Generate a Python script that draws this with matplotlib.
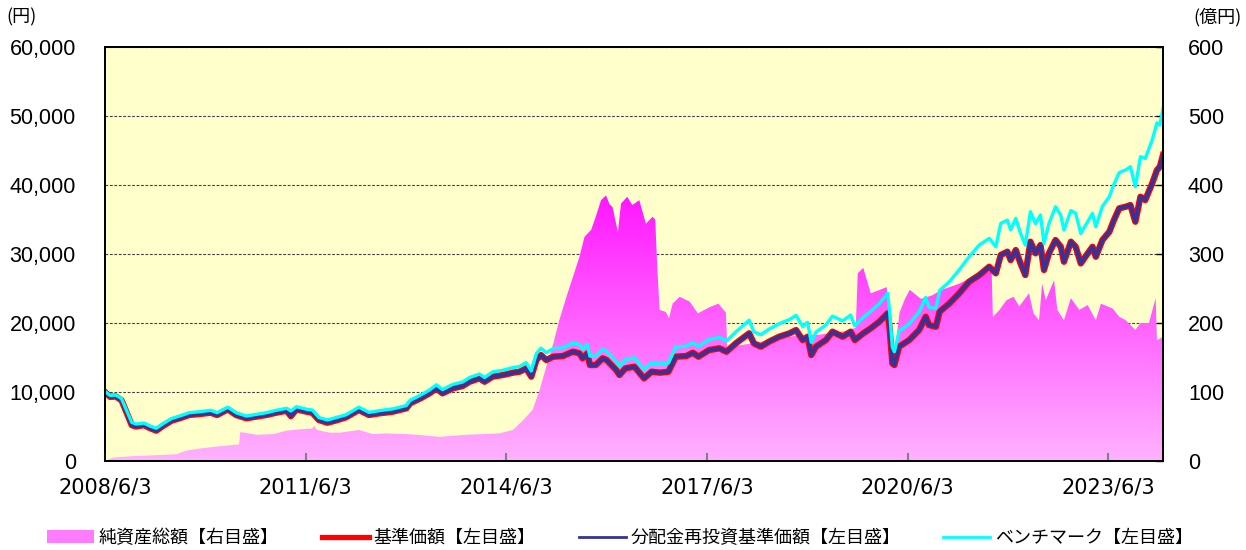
import numpy as np
import pandas as pd
import matplotlib
matplotlib.use('Agg')
import matplotlib.pyplot as plt
import matplotlib.dates as mdates
from matplotlib.lines import Line2D
from matplotlib.patches import Patch
from matplotlib.ticker import FuncFormatter

plt.rcParams['font.family'] = ['Noto Sans CJK JP', 'DejaVu Sans']

# 基準価額（円）  分配なしのため分配金再投資基準価額と同じ値
nav_dates = [
    '2008-06-03', '2008-07-01', '2008-08-01', '2008-09-01', '2008-10-01', '2008-10-27',
    '2008-11-20', '2009-01-01', '2009-02-05', '2009-03-10', '2009-04-15', '2009-06-01',
    '2009-07-15', '2009-09-05', '2009-11-01', '2010-01-01', '2010-02-05', '2010-04-05',
    '2010-05-20', '2010-07-15', '2010-09-05', '2010-11-01', '2010-12-25', '2011-02-20',
    '2011-03-15', '2011-04-15', '2011-06-10', '2011-07-10', '2011-08-15', '2011-10-01',
    '2011-11-25', '2012-01-10', '2012-03-20', '2012-05-15', '2012-07-10', '2012-09-20',
    '2012-12-05', '2012-12-25', '2013-02-20', '2013-04-10', '2013-05-18', '2013-06-20',
    '2013-08-15', '2013-10-08', '2013-11-15', '2014-01-08', '2014-02-05', '2014-03-20',
    '2014-05-15', '2014-07-10', '2014-08-15', '2014-09-20', '2014-10-18', '2014-11-15',
    '2014-12-10', '2015-01-08', '2015-02-15', '2015-04-08', '2015-06-03', '2015-07-08',
    '2015-07-25', '2015-08-20', '2015-09-03', '2015-10-05', '2015-11-12', '2015-12-03',
    '2016-01-25', '2016-02-12', '2016-03-15', '2016-05-03', '2016-06-25', '2016-08-05',
    '2016-09-20', '2016-11-05', '2016-12-15', '2017-02-10', '2017-03-18', '2017-04-18',
    '2017-06-15', '2017-08-10', '2017-09-18', '2017-11-08', '2018-01-20', '2018-02-15',
    '2018-03-25', '2018-05-08', '2018-07-03', '2018-08-28', '2018-10-03', '2018-11-08',
    '2018-12-05', '2018-12-25', '2019-01-20', '2019-03-15', '2019-04-20', '2019-06-15',
    '2019-07-28', '2019-08-20', '2019-10-05', '2019-11-15', '2020-01-01', '2020-02-15',
    '2020-02-25', '2020-03-12', '2020-03-23', '2020-04-18', '2020-06-12', '2020-08-05',
    '2020-09-10', '2020-09-28', '2020-11-05', '2020-11-25', '2021-01-18', '2021-03-12',
    '2021-05-05', '2021-06-30', '2021-08-23', '2021-09-28', '2021-10-25', '2021-11-30',
    '2021-12-18', '2022-01-15', '2022-02-10', '2022-03-08', '2022-04-05', '2022-05-03',
    '2022-05-30', '2022-06-18', '2022-07-15', '2022-08-20', '2022-09-18', '2022-10-05',
    '2022-11-12', '2022-12-08', '2023-01-05', '2023-02-12', '2023-03-10', '2023-03-28',
    '2023-05-03', '2023-06-10', '2023-07-05', '2023-08-03', '2023-09-08', '2023-10-03',
    '2023-10-30', '2023-11-27', '2023-12-23', '2024-01-30', '2024-02-25', '2024-03-12',
    '2024-03-29',
]
nav = [
    10000, 9300, 9350, 8800, 6900, 5200,
    5000, 5200, 4750, 4400, 5070, 5840,
    6190, 6670, 6810, 7000, 6670, 7490,
    6670, 6190, 6420, 6670, 7000, 7290,
    6500, 7490, 7140, 7000, 5940, 5550,
    5940, 6330, 7390, 6670, 6910, 7140,
    7640, 8360, 9080, 9810, 10530, 9810,
    10530, 10870, 11490, 11980, 11490, 12220,
    12460, 12800, 12940, 13430, 12220, 14640,
    15360, 14640, 15120, 15210, 15840, 15600,
    14880, 15600, 13910, 13910, 14880, 14640,
    13190, 12460, 13430, 13670, 11980, 12940,
    12800, 12940, 15120, 15210, 15690, 15120,
    16080, 16330, 15840, 17050, 18500, 17050,
    16570, 17290, 18010, 18500, 18980, 17530,
    18010, 15360, 16570, 17530, 18740, 18010,
    18740, 17530, 18500, 19230, 20190, 21400,
    19460, 14160, 13910, 16570, 17530, 18980,
    20910, 19710, 19460, 21640, 22850, 24300,
    25980, 26950, 28150, 27200, 29850, 30330,
    29120, 30570, 28640, 26950, 31780, 30090,
    31300, 27680, 30090, 32020, 31050, 28880,
    31780, 31050, 28640, 30090, 31050, 29600,
    32020, 33230, 34920, 36620, 36850, 37090,
    34680, 38300, 37820, 40240, 42170, 42650,
    44340,
]
nav_reinvest = list(nav)

# ベンチマーク（円）
bench = [
    10100, 9500, 9560, 9050, 7200, 5600,
    5350, 5500, 5050, 4750, 5400, 6150,
    6520, 7000, 7140, 7350, 7000, 7800,
    7000, 6520, 6750, 7000, 7350, 7640,
    7250, 7870, 7490, 7400, 6300, 5950,
    6350, 6700, 7800, 7050, 7300, 7550,
    8050, 8800, 9550, 10300, 11050, 10350,
    11100, 11450, 12100, 12600, 12100, 12900,
    13150, 13550, 13700, 14250, 13050, 15600,
    16350, 15700, 16300, 16400, 17100, 16900,
    16200, 16900, 15200, 15200, 16200, 15900,
    14450, 13700, 14700, 14950, 13250, 14200,
    14050, 14200, 16500, 16650, 17150, 16600,
    17600, 17900, 17400, 18700, 20400, 18700,
    18300, 19100, 19900, 20500, 21100, 19500,
    20100, 17200, 18700, 19700, 21000, 20300,
    21150, 19600, 20800, 21700, 22800, 24300,
    22000, 16500, 15840, 18800, 19900, 21600,
    23700, 22300, 22100, 24700, 26000, 27700,
    29600, 31300, 32270, 31050, 34440, 34900,
    33500, 35170, 32990, 31300, 36130, 34400,
    35650, 31540, 34400, 36850, 35600, 33470,
    36300, 35890, 32990, 34700, 35890, 33950,
    36900, 38300, 40100, 41800, 42200, 42650,
    39750, 44100, 43860, 46510, 49000, 48690,
    51110,
]

# 純資産総額（億円）
aum_dates = [
    '2008-06-03', '2008-06-10', '2008-07-15', '2008-10-28', '2009-05-01', '2009-07-01',
    '2009-08-20', '2009-11-01', '2010-02-05', '2010-06-05', '2010-06-12', '2010-09-10',
    '2010-12-10', '2011-02-20', '2011-05-05', '2011-07-10', '2011-07-20', '2011-08-05',
    '2011-10-15', '2011-12-08', '2012-03-20', '2012-06-05', '2012-08-15', '2012-12-05',
    '2013-02-01', '2013-06-03', '2013-10-25', '2014-04-25', '2014-07-10', '2014-09-03',
    '2014-10-25', '2014-12-03', '2015-01-08', '2015-02-15', '2015-03-20', '2015-04-28',
    '2015-06-03', '2015-07-08', '2015-08-05', '2015-09-10', '2015-10-05', '2015-11-03',
    '2015-11-30', '2015-12-20', '2016-01-05', '2016-02-03', '2016-02-20', '2016-03-25',
    '2016-04-22', '2016-05-30', '2016-07-05', '2016-08-10', '2016-08-25', '2016-09-05',
    '2016-09-18', '2016-10-22', '2016-11-08', '2016-11-28', '2017-01-05', '2017-03-01',
    '2017-04-15', '2017-06-18', '2017-08-05', '2017-09-15', '2017-09-22', '2017-11-10',
    '2018-03-15', '2018-07-03', '2018-10-20', '2019-02-05', '2019-06-25', '2019-08-25',
    '2019-09-05', '2019-10-05', '2019-11-15', '2020-01-03', '2020-02-10', '2020-02-25',
    '2020-03-10', '2020-03-22', '2020-04-20', '2020-05-20', '2020-06-15', '2020-08-15',
    '2020-10-15', '2020-12-05', '2021-01-18', '2021-03-12', '2021-05-25', '2021-08-03',
    '2021-09-05', '2021-09-12', '2021-10-18', '2021-11-25', '2022-01-03', '2022-02-03',
    '2022-03-28', '2022-04-22', '2022-05-22', '2022-06-08', '2022-06-28', '2022-08-12',
    '2022-08-30', '2022-10-05', '2022-11-12', '2022-12-28', '2023-02-12', '2023-03-28',
    '2023-04-25', '2023-06-28', '2023-08-03', '2023-09-08', '2023-10-30', '2023-11-27',
    '2024-01-12', '2024-02-18', '2024-02-25', '2024-03-29',
]
aum = [
    0, 1, 5, 7, 9, 10,
    15, 18, 21, 24, 42, 38,
    39, 44, 46, 47, 51, 45,
    41, 41, 45, 39, 40, 39,
    38, 35, 38, 40, 45, 59,
    74, 103, 137, 170, 204, 238,
    267, 296, 325, 335, 354, 378,
    385, 372, 368, 332, 373, 383,
    371, 378, 344, 354, 350, 281,
    219, 216, 207, 228, 238, 231,
    214, 223, 228, 215, 165, 167,
    172, 178, 182, 183, 188, 193,
    272, 280, 243, 248, 252, 209,
    155, 150, 215, 235, 248, 235,
    240, 248, 252, 257, 267, 272,
    277, 209, 219, 233, 238, 224,
    243, 214, 204, 257, 233, 262,
    219, 204, 236, 219, 226, 204,
    228, 221, 209, 204, 190, 200,
    200, 236, 175, 180,
]

tick_dates = ['2008-06-03', '2011-06-03', '2014-06-03', '2017-06-03', '2020-06-03', '2023-06-03']
tick_labels = ['2008/6/3', '2011/6/3', '2014/6/3', '2017/6/3', '2020/6/3', '2023/6/3']
legend_labels = ['純資産総額【右目盛】', '基準価額【左目盛】', '分配金再投資基準価額【左目盛】', 'ベンチマーク【左目盛】']

nav_dates = pd.to_datetime(nav_dates)
aum_dates = pd.to_datetime(aum_dates)
tick_dates = pd.to_datetime(tick_dates)

fig = plt.figure(figsize=(12.46, 5.5), dpi=100)
ax = fig.add_axes([105 / 1246, 89 / 550, 1058 / 1246, 414 / 550])
ax2 = ax.twinx()
ax.set_zorder(2)
ax2.set_zorder(1)
ax.patch.set_visible(False)
ax2.patch.set_visible(True)
ax2.patch.set_facecolor('#FFFFCC')

x0 = mdates.date2num(nav_dates[0])
x1 = mdates.date2num(nav_dates[-1])

# 純資産総額: 縦グラデーションの面
fb = ax2.fill_between(aum_dates, 0, aum, facecolor='none', edgecolor='none')
v = np.linspace(0, 600, 400)
g = np.clip(178 - 155 * v / 385, 0, 255) / 255
grad = np.zeros((len(v), 1, 3))
grad[:, 0, 0] = 1.0
grad[:, 0, 1] = g
grad[:, 0, 2] = 1.0
im = ax2.imshow(grad, extent=[x0, x1, 0, 600], origin='lower', aspect='auto', zorder=1,
                interpolation='bilinear')
im.set_clip_path(fb.get_paths()[0], transform=ax2.transData)

ax2.set_ylim(0, 600)
ax2.set_yticks(range(0, 601, 100))
ax2.set_axisbelow(True)
ax2.grid(axis='y', color='#404040', linestyle=(0, (2.5, 1.5)), linewidth=0.8)

ax.plot(nav_dates, nav, color='#FF0000', lw=4.6, solid_joinstyle='round')
ax.plot(nav_dates, nav_reinvest, color='#333399', lw=2.8, solid_joinstyle='round')
ax.plot(nav_dates, bench, color='#00FFFF', lw=2.4, solid_joinstyle='round')

ax.set_xlim(x0, x1)
ax.set_ylim(0, 60000)
ax.set_yticks(range(0, 60001, 10000))
ax.yaxis.set_major_formatter(FuncFormatter(lambda y, p: f'{y:,.0f}'))
ax.set_xticks(tick_dates)
ax.set_xticklabels(tick_labels, family='DejaVu Sans', fontsize=15)

ax.tick_params(axis='y', length=0, pad=21, labelsize=15.5)
for t in ax.get_yticklabels():
    t.set_family(['Liberation Sans'])
ax.tick_params(axis='x', direction='in', length=6, width=1.5, color='#808080', pad=12)
ax2.tick_params(axis='y', direction='in', length=5, width=1, color='black', pad=18, labelsize=15.5)
for t in ax2.get_yticklabels():
    t.set_family(['Liberation Sans'])

for a in (ax, ax2):
    for s in a.spines.values():
        s.set_color('black')
        s.set_linewidth(1.3)

fig.text(6 / 1246, 1 - 17 / 550, '(円)', fontsize=13, va='center', ha='left')
fig.text(1242 / 1246, 1 - 17 / 550, '(億円)', fontsize=13, va='center', ha='right')

handles = [
    Patch(facecolor='#FF7CFF', edgecolor='none'),
    Line2D([], [], color='#FF0000', lw=3.8),
    Line2D([], [], color='#333399', lw=2),
    Line2D([], [], color='#00FFFF', lw=2),
]
fig.legend(handles, legend_labels, loc='center', bbox_to_anchor=(0.4976, 0.022), ncol=4,
           frameon=False, fontsize=13, handlelength=2.6, handletextpad=0.25,
           columnspacing=2.4)

fig.savefig('out.png', dpi=100)
